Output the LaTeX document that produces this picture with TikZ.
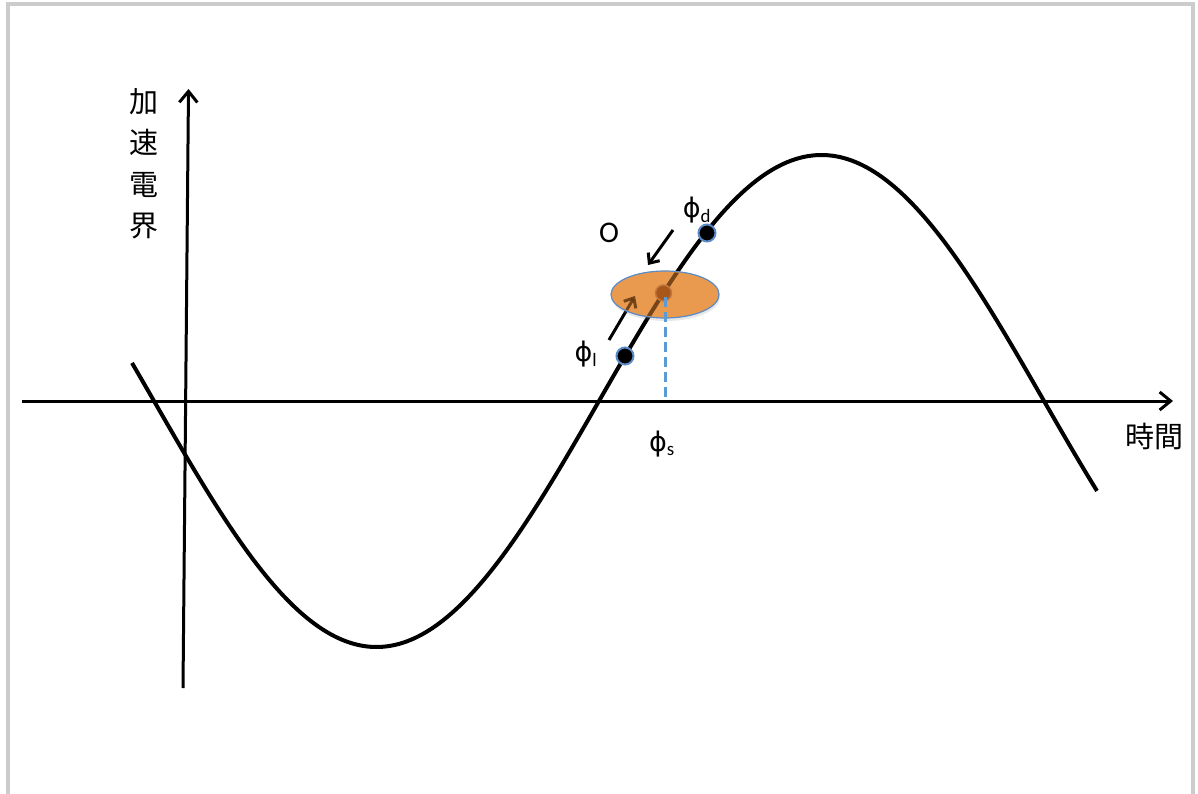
\documentclass[tikz,border=0pt]{standalone}
\usepackage{fontspec}
\setmainfont{Carlito}
\newfontfamily\cjk{Noto Sans CJK JP}
\newfontfamily\phifont{DejaVu Sans}
\usetikzlibrary{arrows.meta,shadows,shapes.geometric}
\definecolor{frame}{HTML}{CCCCCC}
\definecolor{ellfill}{HTML}{EA9A4E}
\definecolor{ellline}{HTML}{5B8BC6}
\definecolor{dotbrown}{HTML}{A8561A}
\definecolor{dotrim}{HTML}{C07A3E}
\definecolor{dashblue}{HTML}{5B9BD5}
\definecolor{seen}{HTML}{5A300C}
\newcommand{\phisym}{{\phifont ϕ}}
\tikzset{
  axis/.style={line width=3pt,-{Straight Barb[length=11pt,width=18pt,line width=3pt]}},
  wave/.style={line width=4pt},
  motion/.style={line width=3pt,-{Straight Barb[length=8pt,width=14pt,line width=3pt]}},
  phasept/.style={circle,draw=ellline,line width=2pt,fill=black,minimum size=17pt,inner sep=0pt},
  lbl/.style={font=\fontsize{27}{30}\selectfont,inner sep=0pt},
  cjklbl/.style={font=\cjk\fontsize{29}{41.5}\selectfont,inner sep=0pt,align=center},
}
\begin{document}
\begin{tikzpicture}[x=1pt,y=-1pt]
\useasboundingbox (0,0) rectangle (1198,794);
% frame
\draw[frame,line width=4pt] (7.5,794) -- (7.5,4) -- (1192.5,4) -- (1192.5,794);
% wave
\draw[wave] plot[domain=132:1097,samples=300,smooth] (\x,{401-246*sin(0.4044944*(\x-599))});
% axes
\coordinate (xs) at (22,401);
\coordinate (xe) at (1173,401);
\coordinate (ys) at (183,688);
\coordinate (ye) at (188.5,89);
\draw[axis] (xs) -- (xe);
\draw[axis] (ys) -- (ye);
% axis labels
\node[cjklbl] (ylab) at (143.5,164) {加\\速\\電\\界};
\node[cjklbl] (xlab) at (1154,436) {時間};
% motion arrows
\coordinate (a1s) at (673,230);
\coordinate (a1e) at (648,265);
\coordinate (a2s) at (609,340);
\coordinate (a2e) at (635,296);
\draw[motion] (a1s) -- (a1e);
\draw[motion] (a2s) -- (a2e);
% bunch ellipse
\node[ellipse,draw=ellline,line width=1.2pt,fill=ellfill,
      minimum width=108pt,minimum height=47pt,inner sep=0pt,
      drop shadow={shadow xshift=1pt,shadow yshift=-3pt,opacity=0.18}] (bunch) at (665,294.5) {};
\begin{scope}
  \clip (665,294.5) ellipse [x radius=53pt,y radius=22.5pt];
  \draw[wave,seen,opacity=0.8] plot[domain=600:730,samples=60,smooth] (\x,{401-246*sin(0.4044944*(\x-599))});
  \draw[motion,seen,opacity=0.8] (a2s) -- (a2e);
\end{scope}
\node[circle,draw=dotrim,line width=1.5pt,fill=dotbrown,minimum size=16pt,inner sep=0pt] (sync) at (663.5,293) {};
\coordinate (foot) at (665,399);
\draw[dashblue,line width=3pt,dash pattern=on 10pt off 5pt] (sync.center) ++(1.5,4) -- (foot);
% phase points
\node[phasept] (pd) at (707,233) {};
\node[phasept] (pl) at (625,356) {};
% labels
\node[lbl,font=\fontsize{30}{34}\selectfont] (olab) at (609,233) {O};
\node[lbl] (pdlab) at (697,210) {\phisym\textsubscript{d}};
\node[lbl] (pllab) at (586,354) {\phisym\textsubscript{l}};
\node[lbl] (pslab) at (662,444) {\phisym\textsubscript{s}};
\end{tikzpicture}
\end{document}
